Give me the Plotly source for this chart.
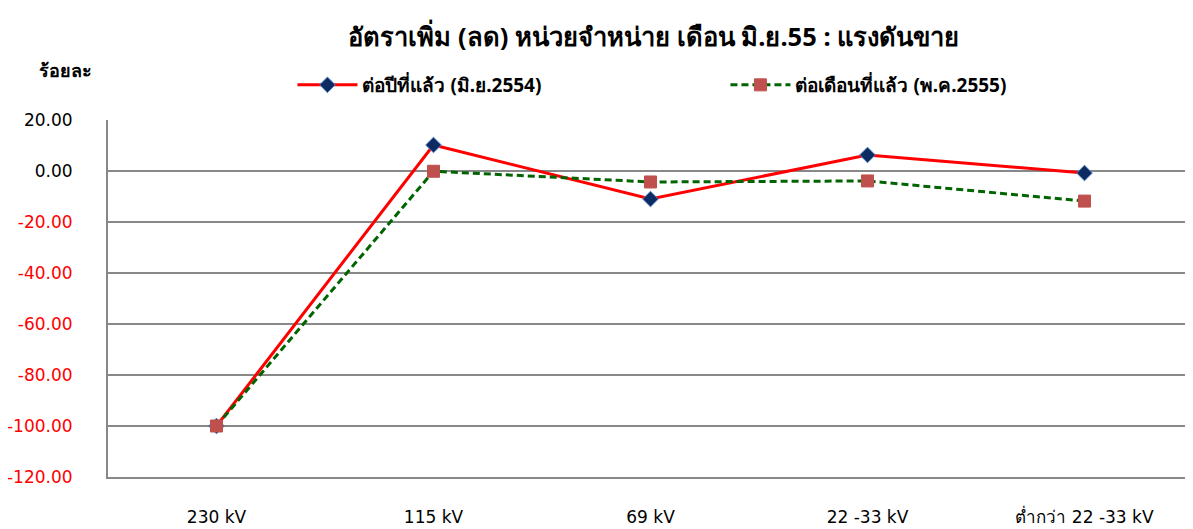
import plotly.graph_objects as go

categories = ["230 kV", "115 kV", "69 kV", "22 -33 kV", "ต่ำกว่า 22 -33 kV"]
yoy_values = [-100.0, 10.2, -11.0, 6.3, -0.8]
mom_values = [-100.0, -0.1, -4.3, -3.9, -11.8]
yoy_name = "<b>ต่อปีที่แล้ว (มิ.ย.2554)</b>"
mom_name = "<b>ต่อเดือนที่แล้ว (พ.ค.2555)</b>"
tick_vals = [20, 0, -20, -40, -60, -80, -100, -120]

def fmt(v):
    s = f"{v:.2f}"
    color = "black" if v >= 0 else "red"
    return f"<span style='color:{color}'>{s}</span>"

tick_text = [fmt(v) for v in tick_vals]

num_font = "'DejaVu Sans', Tahoma, sans-serif"
thai_font = "Tahoma, 'Noto Sans', 'DejaVu Sans', sans-serif"

fig = go.Figure()
fig.add_trace(go.Scatter(
    x=categories, y=yoy_values, name=yoy_name, mode="lines+markers",
    line=dict(color="#FF0000", width=3),
    marker=dict(symbol="diamond", size=12, color="#0D2A63",
                line=dict(color="#4F81BD", width=1)),
))
fig.add_trace(go.Scatter(
    x=categories, y=mom_values, name=mom_name, mode="lines+markers",
    line=dict(color="#006400", width=3, dash="7px,4px"),
    marker=dict(symbol="square", size=12, color="#C0504D",
                line=dict(color="#C0504D", width=1)),
))

fig.update_layout(
    width=1185, height=521,
    paper_bgcolor="white", plot_bgcolor="white",
    margin=dict(l=100, r=0, t=112, b=52, autoexpand=False),
    font=dict(family=thai_font, size=17, color="black"),
    title=dict(text="<b>อัตราเพิ่ม (ลด) หน่วยจำหน่าย เดือน มิ.ย.55 : แรงดันขาย</b>",
               x=0.545, xanchor="center", y=0.944, yanchor="middle",
               font=dict(size=25.5, family=thai_font)),
    legend=dict(orientation="h", x=0.170, xanchor="left", y=1.098, yanchor="middle",
                font=dict(size=19, family=thai_font), itemwidth=60,
                entrywidth=358, entrywidthmode="pixels",
                bgcolor="rgba(0,0,0,0)"),
    showlegend=True,
)
fig.update_xaxes(
    type="category", range=[-0.5, 4.5], showgrid=False,
    showline=True, linecolor="#888888", linewidth=2,
    ticks="", tickfont=dict(size=17, family=num_font), ticklabelstandoff=24,
)
fig.update_yaxes(
    range=[-120, 20], tickvals=tick_vals, ticktext=tick_text,
    showgrid=True, gridcolor="#888888", gridwidth=1.5,
    zeroline=True, zerolinecolor="#888888", zerolinewidth=1.5,
    showline=True, linecolor="#888888", linewidth=2,
    tickfont=dict(size=17, family=num_font), ticks="", ticklabelstandoff=30,
)
fig.add_annotation(text="<b>ร้อยละ</b>", xref="paper", yref="paper",
                   x=-0.0396, y=1.14, xanchor="center", yanchor="middle",
                   showarrow=False, font=dict(size=18, family=thai_font))

fig.write_html("out.html")
